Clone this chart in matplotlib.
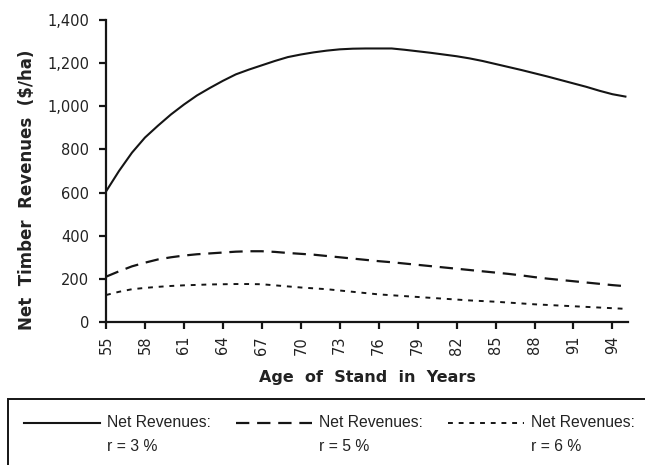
import matplotlib
matplotlib.use("Agg")
import matplotlib.pyplot as plt
from matplotlib.legend_handler import HandlerLine2D
from matplotlib.patches import Rectangle

# stand age (years) and net timber revenues ($/ha) at three discount rates
age = list(range(55, 96))
rev_3 = [605, 700, 785, 855, 910, 962, 1008, 1050, 1085, 1118, 1148, 1170, 1190,
         1210, 1228, 1240, 1250, 1258, 1264, 1267, 1268, 1268, 1268, 1262, 1255,
         1248, 1240, 1232, 1222, 1210, 1196, 1182, 1168, 1153, 1138, 1122, 1106,
         1090, 1072, 1056, 1045]
rev_5 = [210, 235, 258, 275, 290, 300, 308, 314, 318, 322, 326, 328, 328, 325,
         320, 316, 312, 306, 300, 294, 288, 282, 277, 271, 265, 259, 253, 247,
         241, 235, 229, 223, 216, 208, 201, 195, 189, 183, 177, 171, 166]
rev_6 = [125, 140, 152, 158, 163, 167, 170, 172, 174, 175, 176, 176, 175, 170,
         165, 160, 156, 152, 146, 140, 134, 128, 124, 120, 116, 112, 108, 104,
         100, 97, 94, 90, 86, 82, 79, 76, 73, 70, 67, 64, 61]
xticks = list(range(55, 95, 3))
yticks = list(range(0, 1401, 200))
labels = ["Net Revenues:\nr = 3 %", "Net Revenues:\nr = 5 %", "Net Revenues:\nr = 6 %"]


class TopLineHandler(HandlerLine2D):
    # put the key line next to the first line of a two-line label
    def create_artists(self, legend, orig_handle, xdescent, ydescent,
                       width, height, fontsize, trans):
        arts = super().create_artists(legend, orig_handle, xdescent, ydescent,
                                      width, height, fontsize, trans)
        for a in arts:
            a.set_ydata([y + 0.72 * fontsize for y in a.get_ydata()])
        return arts


ink = "#151515"
txt = "#222222"
fig = plt.figure(figsize=(6.45, 4.65), dpi=100)
ax = fig.add_axes([106 / 645, 1 - 322 / 465, 522 / 645, 302 / 465])

l1, = ax.plot(age, rev_3, color=ink, lw=1.5, linestyle="-")
l2, = ax.plot(age, rev_5, color=ink, lw=1.6, linestyle=(0, (6, 3.5)))
l3, = ax.plot(age, rev_6, color=ink, lw=1.4, linestyle=(0, (2.5, 3)))

ax.set_xlim(55, 95.2)
ax.set_ylim(0, 1400)
ax.set_xticks(xticks)
ax.set_yticks(yticks)
ax.set_xticklabels([str(t) for t in xticks], rotation=90)
ax.set_yticklabels([f"{t:,}" for t in yticks])

for s in ["top", "right"]:
    ax.spines[s].set_visible(False)
for s in ["left", "bottom"]:
    ax.spines[s].set_linewidth(1.6)
    ax.spines[s].set_color(ink)
ax.tick_params(direction="out", length=5, width=1.6, color=ink,
               labelsize=10.5, labelcolor=txt, pad=7)
ax.tick_params(axis="x", pad=5)

ax.set_xlabel("Age  of  Stand  in  Years", fontsize=11.5, fontweight="bold",
              color=txt)
ax.xaxis.set_label_coords(0.5, -0.16)
ax.set_ylabel("Net  Timber  Revenues  ($/ha)", fontsize=12,
              fontweight="bold", color=txt)
ax.yaxis.set_label_coords(-0.135, 0.437)

# legend box runs off the right and bottom edges of the page
top = 1 - 399 / 465
fig.patches.append(Rectangle((8 / 645, -0.1), 1.2, top + 0.1,
                             transform=fig.transFigure, fill=False,
                             lw=1.4, ec=ink))

h = TopLineHandler()
leg = fig.legend([l1, l2, l3], labels, loc="upper left", ncol=3,
                 bbox_to_anchor=(8 / 645, top), borderaxespad=0,
                 frameon=False,
                 handlelength=4.85, handletextpad=0.45, columnspacing=1.6,
                 borderpad=1.0,
                 prop={"family": "Liberation Sans", "size": 11.3},
                 handler_map={l1: h, l2: h, l3: h})
for t in leg.get_texts():
    t.set_color(txt)
    t.set_linespacing(1.75)

fig.savefig("out.png", dpi=100)
